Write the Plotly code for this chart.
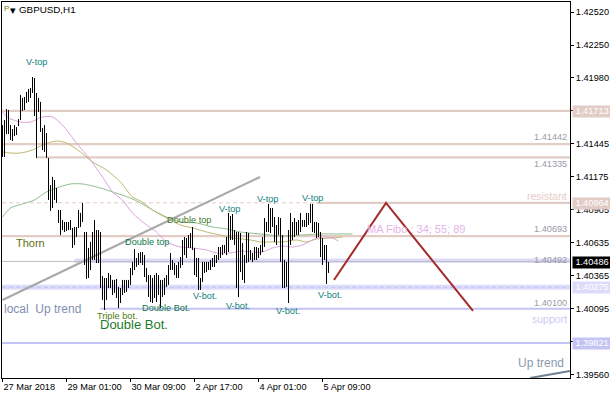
import plotly.graph_objects as go

symbol = "GBPUSD,H1"
bar_high = [1.41598,1.41639,1.41729,1.41721,1.41598,1.41566,1.41598,1.41582,1.41647,1.41844,1.41819,1.41827,1.41868,1.41892,1.41900,1.41990,1.41982,1.41860,1.41819,1.41787,1.41574,1.41598,1.41533,1.41330,
1.41109,1.41175,1.41150,1.41085,1.40906,1.40906,1.40824,1.40808,1.40808,1.40808,1.40824,1.40759,1.40767,1.40767,1.40906,1.40882,1.40963,1.40726,1.40726,1.40596,1.40645,1.40726,1.40824,1.40742,1.40742,1.40726,
1.40367,1.40351,1.40351,1.40392,1.40375,1.40335,1.40335,1.40343,1.40278,1.40269,1.40335,1.40335,1.40335,1.40335,1.40433,1.40482,1.40587,1.40514,1.40555,1.40563,1.40563,1.40538,
1.40433,1.40375,1.40375,1.40351,1.40375,1.40392,1.40375,1.40335,1.40335,1.40351,1.40375,1.40457,1.40555,1.40498,1.40473,1.40457,1.40482,1.40522,1.40661,1.40685,1.40677,1.40701,1.40718,1.40767,1.40596,1.40514,1.40514,1.40351,1.40482,1.40482,1.40482,1.40482,1.40498,1.40514,1.40538,1.40538,1.40604,1.40604,1.40620,1.40620,1.40685,1.40881,1.40857,1.40873,1.40742,1.40726,1.40726,1.40718,
1.40636,1.40538,1.40726,1.40718,1.40579,1.40555,1.40604,1.40604,1.40596,1.40620,1.40685,1.40840,1.40808,1.40955,1.40922,1.40922,1.40848,1.40783,1.40848,1.40840,1.40701,1.40498,1.40482,1.40742,1.40881,1.40808,1.40840,1.40808,1.40824,1.40881,1.40824,1.40824,1.40881,1.40881,1.40955,1.40955,1.40808,1.40808,1.40800,1.40726,1.40677,1.40620,1.40620,1.40482]
bar_low = [1.41338,1.41338,1.41525,1.41525,1.41476,1.41468,1.41509,1.41517,1.41590,1.41639,1.41713,1.41721,1.41779,1.41787,1.41819,1.41860,1.41672,1.41330,1.41705,1.41542,1.41395,1.41379,1.41330,1.40987,
1.40898,1.40922,1.40987,1.40963,1.40800,1.40701,1.40742,1.40726,1.40734,1.40742,1.40742,1.40596,1.40620,1.40685,1.40759,1.40767,1.40808,1.40457,1.40343,1.40351,1.40416,1.40498,1.40498,1.40473,1.40473,1.40269,
1.40172,1.40090,1.40172,1.40269,1.40269,1.40212,1.40229,1.40188,1.40106,1.40147,1.40212,1.40229,1.40237,1.40269,1.40294,1.40375,1.40416,1.40441,1.40457,1.40473,1.40457,1.40359,
1.40318,1.40196,1.40155,1.40147,1.40188,1.40155,1.40212,1.40106,1.40196,1.40212,1.40278,1.40294,1.40416,1.40416,1.40375,1.40351,1.40351,1.40433,1.40457,1.40538,1.40514,1.40596,1.40596,1.40579,1.40375,1.40359,1.40253,1.40253,1.40318,1.40392,1.40400,1.40416,1.40416,1.40441,1.40441,1.40473,1.40498,1.40514,1.40538,1.40555,1.40538,1.40563,1.40661,1.40661,1.40620,1.40269,1.40196,1.40400,
1.40335,1.40310,1.40473,1.40482,1.40498,1.40482,1.40498,1.40498,1.40514,1.40538,1.40563,1.40604,1.40726,1.40726,1.40718,1.40767,1.40645,1.40620,1.40701,1.40482,1.40269,1.40269,1.40278,1.40147,1.40620,1.40661,1.40685,1.40701,1.40701,1.40726,1.40767,1.40767,1.40767,1.40783,1.40800,1.40726,1.40718,1.40677,1.40685,1.40522,1.40457,1.40498,1.40302,1.40392]

ma34_i = [0,3,9,14,20,25,30,37,44,50,55,60,65,72,77,82,89,95,102,107,114,119,125,130,135,140,145,150,155,160,165,168]
ma34_p = [1.41705,1.41656,1.41623,1.41623,1.41664,1.41664,1.41598,1.41452,1.41313,1.41175,1.41053,1.40987,1.40881,1.40783,1.40726,1.40645,1.40604,1.40596,1.40579,1.40555,1.40555,1.40571,1.40563,1.40563,1.40596,1.40612,1.40604,1.40620,1.40661,1.40685,1.40677,1.40653]
ma55_i = [0,4,9,15,20,27,32,39,45,52,59,65,69,75,82,89,95,102,109,115,124,129,135,140,147,152,157,164,170]
ma55_p = [1.41379,1.41370,1.41370,1.41395,1.41436,1.41468,1.41452,1.41379,1.41297,1.41232,1.41134,1.41011,1.40979,1.40906,1.40840,1.40783,1.40759,1.40726,1.40701,1.40677,1.40661,1.40645,1.40645,1.40645,1.40661,1.40645,1.40669,1.40677,1.40685]
ma89_i = [0,4,10,16,22,27,34,40,49,55,64,69,75,82,89,97,105,112,119,129,139,149,159,167,175]
ma89_p = [1.40848,1.40922,1.40955,1.40987,1.41053,1.41085,1.41118,1.41118,1.41085,1.41053,1.41003,1.40963,1.40906,1.40848,1.40808,1.40800,1.40767,1.40751,1.40726,1.40710,1.40693,1.40701,1.40710,1.40710,1.40710]

resist_levels = [1.41713, 1.41442, 1.41335, 1.40693]
resist_start = [0, 0, 17, 0]
resist_dash_level = 1.40964
resist_dash_end = 157
support_levels = [1.40100, 1.39821]
support_start = [49, 0]
band_top = 1.40492
band_top_start = 36
band_low = 1.40275
current_price = 1.40486

channel_i = [0, 128.75]
channel_p = [1.40172, 1.41175]
uptrend_i = [263.75, 283.75]
uptrend_p = [1.39535, 1.39593]
forecast_i = [165.75, 191.75, 235.25]
forecast_p = [1.40335, 1.40963, 1.40082]

y_tick_vals = [1.42520,1.42251,1.41982,1.41713,1.41444,1.41175,1.40906,1.40637,1.40368,1.40099,1.39830,1.39561]
y_tick_text = ["1.42520","1.42250","1.41980","","1.41445","1.41175","1.40905","1.40635","1.40365","1.40095","","1.39560"]
x_tick_vals = [0, 32, 64, 96, 128, 160]
x_tick_text = ["27 Mar 2018", "29 Mar 01:00", "30 Mar 09:00", "2 Apr 17:00", "4 Apr 01:00", "5 Apr 09:00"]

W, H = 610, 400
L, R, T, B = 2, 40, 2, 22
X0 = -0.25
X1 = X0 + (W - L - R) / 2
Y1 = 1.42618 - 8.155e-5 * T
Y0 = 1.42618 - 8.155e-5 * (H - B)
FONT = "Liberation Sans"

def px(x):
    return (x - 2.5) / 2

def py(y):
    return 1.42618 - 8.155e-5 * y

fig = go.Figure()

def line(x, y, color, width, dash="solid", shape="linear"):
    fig.add_trace(go.Scatter(x=x, y=y, mode="lines", hoverinfo="skip", showlegend=False,
                             line=dict(color=color, width=width, dash=dash, shape=shape, smoothing=0.7)))

# levels
line([X0, X1], [band_low, band_low], "#DCDCFA", 5)
line([X0, X1], [band_low, band_low], "#C4C4F4", 1, "4px,3px")
line([band_top_start, X1], [band_top, band_top], "#DCDCFA", 4.5)
line([X0, X1], [current_price, current_price], "#BEBEBE", 1)
for lv, st in zip(resist_levels, resist_start):
    line([st if st else X0, X1], [lv, lv], "#E2CCC6", 2.2)
line([X0, resist_dash_end], [resist_dash_level]*2, "#E2CCC6", 1, "4px,3px")
line([resist_dash_end, X1], [resist_dash_level]*2, "#E2CCC6", 2.2)
for lv, st in zip(support_levels, support_start):
    line([st if st else X0, X1], [lv, lv], "#C4C4F4", 2.2)

# moving averages
line(ma89_i, ma89_p, "#8FBC8F", 1, shape="spline")
line(ma55_i, ma55_p, "#BDB76B", 1, shape="spline")
line(ma34_i, ma34_p, "#DDA0DD", 1, shape="spline")

# drawn trend lines
line(channel_i, channel_p, "#A9A9A9", 2.2)
line(uptrend_i, uptrend_p, "#708090", 2)

# bars
bx, by = [], []
for i, (h, l) in enumerate(zip(bar_high, bar_low)):
    bx += [i, i, None]
    by += [h, l, None]
fig.add_trace(go.Scatter(x=bx, y=by, mode="lines", hoverinfo="skip", showlegend=False,
                         line=dict(color="#000000", width=1)))

line(forecast_i, forecast_p, "#A52A2A", 2)

ann = []
def text(t, x, y, color, size=9.2, anchor="center"):
    ann.append(dict(text=t, x=px(x), y=py(y), xref="x", yref="y", showarrow=False,
                    xanchor=anchor, yanchor="middle", font=dict(color=color, size=size, family=FONT)))

TEAL = "#0E7F7A"
GREEN = "#0C7A4C"
for x, y in [(36, 62), (229, 209), (267, 199), (312, 198)]:
    text("V-top", x, y, TEAL)
for x, y in [(205, 296), (238, 306), (288, 311), (330, 295)]:
    text("V-bot.", x, y, TEAL)
text("Double top", 147, 242, GREEN)
text("Double top", 189, 220, "#3F7A1E")
text("Double Bot.", 166, 308, GREEN)
text("Triple bot.", 117, 316, "#4F7A10")
text("Double Bot.", 134, 324, "#1E7A2A", 13)
text("Thorn", 30, 243, "#5F6F10", 11)
text("local  Up trend", 2, 309, "#7F8FB0", 12, "left")
text("MA Fibo : 34; 55; 89", 416, 229, "#E6B3E6", 11)
text("resistant", 569, 196, "#E8CCC6", 10.5, "right")
text("support", 569, 319, "#CCCCF4", 10.5, "right")
text("Up trend", 566, 363, "#8A9AB0", 12, "right")
text("1.41442", 569, 137, "#9A9AA8", 9.2, "right")
text("1.41335", 569, 164, "#9A9AA8", 9.2, "right")
text("1.40693", 569, 229, "#9A9AA8", 9.2, "right")
text("1.40492", 569, 260, "#9A9AA8", 9.2, "right")
text("1.40100", 569, 303, "#9A9AA8", 9.2, "right")
text(symbol, 17, 9, "#000000", 9.8, "left")
text("▾", 8, 10, "#000000", 11, "left")
text("P", 2, 8, "#7A7A10", 8, "left")

for label, y, bg, fg in [("1.41713", 111, "#E2CCC6", "#FFFFFF"), ("1.40964", 203, "#E2CCC6", "#FFFFFF"),
                         ("1.40486", 262.5, "#000000", "#FFFFFF"), ("1.40275", 287, "#DCDCFA", "#FFFFFF"),
                         ("1.39821", 343, "#C4C4F4", "#FFFFFF")]:
    ann.append(dict(text=label, x=(572 - L) / (W - L - R), y=py(y), xref="paper", yref="y", showarrow=False,
                    xanchor="left", yanchor="middle", bgcolor=bg, borderpad=0, width=38, height=10.5, align="center",
                    font=dict(color=fg, size=9.2, family=FONT)))

fig.update_layout(width=W, height=H, margin=dict(l=L, r=R, t=T, b=B, pad=0, autoexpand=False),
                  paper_bgcolor="white", plot_bgcolor="white", showlegend=False, annotations=ann,
                  font=dict(family=FONT, size=9.2, color="black"))
fig.update_xaxes(range=[X0, X1], showgrid=False, zeroline=False, showline=True, mirror=True, linecolor="black",
                 linewidth=1, ticks="outside", ticklen=3, tickcolor="black", tickvals=x_tick_vals, ticktext=x_tick_text,
                 tickangle=0, automargin=False, ticklabelposition="outside right")
fig.update_yaxes(range=[Y0, Y1], side="right", showgrid=False, zeroline=False, showline=True, mirror=True, linecolor="black",
                 linewidth=1, ticks="outside", ticklen=3, tickcolor="black", tickvals=y_tick_vals, ticktext=y_tick_text,
                 automargin=False)

fig.write_html("out.html", config={"displayModeBar": False}, post_script="document.body.style.margin='0';")
